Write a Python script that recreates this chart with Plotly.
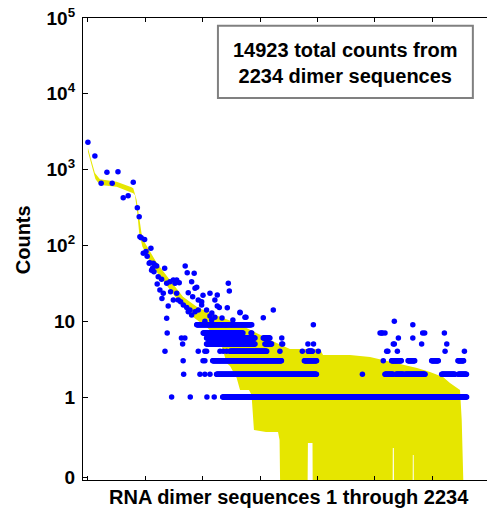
import numpy as np
import plotly.graph_objects as go

# ---------------- data ----------------
# individual (scattered) dimer sequences: index, counts
point_index = [1, 42, 79, 113, 144, 178, 209, 238, 268, 292, 303, 307, 315, 335,
               327, 343, 350, 366, 372, 362, 386, 396, 382, 376, 390, 406, 415, 435,
               409, 425, 445, 437, 453, 465, 484, 504, 524, 539, 514, 488, 524, 504,
               533, 547, 574, 586, 627, 612, 592, 618, 632, 642, 651, 671, 563, 583,
               602, 592, 612, 632, 651, 671, 700, 474, 465, 468, 455, 494, 604, 702,
               745, 720, 763, 828, 834, 720, 730, 749, 763, 775, 822, 897, 926, 731,
               791, 814, 855, 690, 749, 679,
               552, 572, 559, 562, 565, 651, 690, 700, 779, 798, 818, 661, 690, 720,
               679, 690,
               1618, 1741, 1132, 1264, 1358, 1768, 1824, 2105, 2219, 1143, 1297, 1330,
               1806, 1967, 2115, 1148, 1143, 1830, 1915, 916, 975, 962, 1722, 1735,
               1751, 1973, 1985, 2101, 1915, 1806, 1329, 932, 1034, 1093, 897, 966,
               966, 1800, 1761, 1732]
point_counts = [2290, 1510, 660, 920, 660, 940, 426, 453, 680, 314, 239, 130, 126, 120,
                79, 83, 72, 59, 92, 58, 58, 55, 50, 47, 45, 53.5, 38.6, 35.7,
                31, 25.8, 23.3, 20, 50, 31.6, 33.2, 35, 35, 32.2, 31.6, 24.5, 23.3, 19,
                19, 18, 53.5, 43.6, 42.8, 33.2, 23.8, 21, 27.2, 28, 19, 18, 16.4, 15.2,
                14, 13.3, 12.1, 13.3, 14, 16.4, 14, 15.9, 10.9, 7, 4, 1, 1, 1,
                1, 23.3, 22.2, 31.6, 25, 11.7, 10.4, 11.3, 15.9, 15.2, 15.1, 12.9, 11.3, 12.8,
                11, 9, 10.4, 10, 19, 22,
                6, 6, 5, 3, 2, 4, 4, 4, 4, 4, 4, 2, 2, 2,
                3, 3,
                2, 3, 4, 4, 4, 4, 4, 4, 4, 5, 5, 5,
                5, 5, 5, 5, 6, 6, 6, 6, 6, 7, 7, 7,
                7, 7, 7, 7, 9, 10, 9, 11.3, 11.1, 14, 13.1, 9,
                7, 5, 4, 7]

# dense horizontal rows of dots: first index, last index, counts
run_start = [795, 759, 1751, 1815, 1870, 2085, 2183, 736, 1276, 1790, 1887, 2026, 2181,
             838, 1299, 700, 1044, 700, 1034, 680, 642]
run_end = [2232, 1349, 1800, 1860, 1987, 2164, 2232, 1142, 1349, 1849, 1928, 2065, 2216,
           1054, 1325, 985, 1083, 985, 1073, 916, 960]
run_counts = [1, 2, 2, 2, 2, 2, 2, 3, 3, 3, 3, 3, 3,
              4, 4, 5, 5, 6, 6, 7, 9]

# smoothed yellow band: upper edge and lower edge (counts)
band_up_x = [1, 42, 72, 170, 258, 268, 288, 303, 317, 327, 406, 484, 561, 642, 720, 797,
             877, 956, 1015, 1113, 1191, 1368, 1386, 1545, 1663, 1740, 1899, 1940, 2016,
             2093, 2134, 2193, 2203, 2223]
band_up = [1930, 900, 745, 693, 584, 566, 397, 216, 144, 118, 59, 35, 21, 15.5, 12.8, 11.0,
           9.5, 7.7, 6.6, 5.16, 4.30, 4.30, 3.58, 3.58, 3.37, 3.08, 2.56, 2.41, 2.14,
           1.84, 1.53, 1.24, 0.50, 0.01]
band_lo_x = [1, 45, 72, 170, 268, 278, 292, 303, 322, 384, 465, 543, 620, 700, 779, 818,
             838, 877, 897, 950, 965, 979, 1050, 1121, 1130, 1138, 1292, 1297, 1324, 1327,
             1795, 1797, 1803, 1805, 1913, 1915, 1920, 1922, 2223]
band_lo = [1730, 752, 626, 595, 487, 462, 267, 146, 96, 52, 30, 17.4, 11.4, 8.4, 5.65, 2.81,
           2.56, 1.8, 1.24, 1.24, 1.06, 0.367, 0.345, 0.345, 0.271, 0.01, 0.01, 0.247, 0.247,
           0.01, 0.01, 0.212, 0.212, 0.01, 0.01, 0.172, 0.172, 0.01, 0.01]

y_tick_vals = [0.088, 1, 10, 100, 1000, 10000, 100000]
y_tick_text = ["0", "1", "10", "10<sup>2</sup>", "10<sup>3</sup>", "10<sup>4</sup>", "10<sup>5</sup>"]
x_tick_vals = [1, 339, 677, 1015, 1353, 1691, 2029, 2367]

n_sequences = 2234
total_counts = 14923

# ---------------- build figure ----------------
FONT = "Liberation Sans, Arial, sans-serif"

run_x, run_y = [], []
for s, e, c in zip(run_start, run_end, run_counts):
    xs = list(range(s, e + 1, 3))
    run_x.extend(xs)
    run_y.extend([c] * len(xs))

poly_x = band_up_x + band_lo_x[::-1]
poly_y = band_up + band_lo[::-1]

fig = go.Figure()
fig.add_trace(go.Scatter(x=poly_x, y=poly_y, mode="lines", fill="toself",
                         fillcolor="rgb(230,230,0)", line=dict(width=0, color="rgb(230,230,0)"),
                         hoverinfo="skip", showlegend=False))
fig.add_trace(go.Scatter(x=run_x + point_index, y=run_y + point_counts, mode="markers",
                         marker=dict(color="#0000FF", size=5.5, line=dict(width=0)),
                         showlegend=False))

fig.update_layout(
    width=487, height=514,
    margin=dict(l=83, r=0, t=18, b=34),
    paper_bgcolor="white", plot_bgcolor="white",
    showlegend=False,
    xaxis=dict(range=[-28, 2352], showgrid=False, zeroline=False, showline=True,
               linecolor="black", linewidth=1.3, mirror="ticks", ticks="inside",
               ticklen=4, tickwidth=1, tickcolor="black", tickvals=x_tick_vals,
               showticklabels=False),
    yaxis=dict(type="log", range=[-1.095, 5.0], showgrid=False, zeroline=False,
               showline=True, linecolor="black", linewidth=1.3, ticks="inside",
               ticklen=5, tickwidth=1, tickcolor="black", tickvals=y_tick_vals,
               ticktext=y_tick_text, ticklabelstandoff=3,
               tickfont=dict(family=FONT, size=19, color="black", weight="bold")),
)

# axis titles
fig.add_annotation(text="Counts", xref="paper", yref="paper", x=-0.1485, y=0.519,
                   textangle=-90, showarrow=False, xanchor="center", yanchor="middle",
                   font=dict(family=FONT, size=20, color="black", weight="bold"))
fig.add_annotation(text=f"RNA dimer sequences 1 through {n_sequences}", xref="paper",
                   yref="paper", x=0.5087, y=-0.0368, showarrow=False,
                   xanchor="center", yanchor="middle",
                   font=dict(family=FONT, size=20, color="black", weight="bold"))

# info box
fig.add_shape(type="rect", xref="paper", yref="paper", x0=0.334, x1=0.965, y0=0.827, y1=0.983,
              line=dict(color="#808080", width=2), fillcolor="white", layer="above")
fig.add_annotation(text=f"{total_counts} total counts from<br>{n_sequences} dimer sequences",
                   xref="paper", yref="paper", x=0.650, y=0.903, showarrow=False,
                   xanchor="center", yanchor="middle", align="center",
                   font=dict(family=FONT, size=20, color="black", weight="bold"))

fig.write_html("out.html")
